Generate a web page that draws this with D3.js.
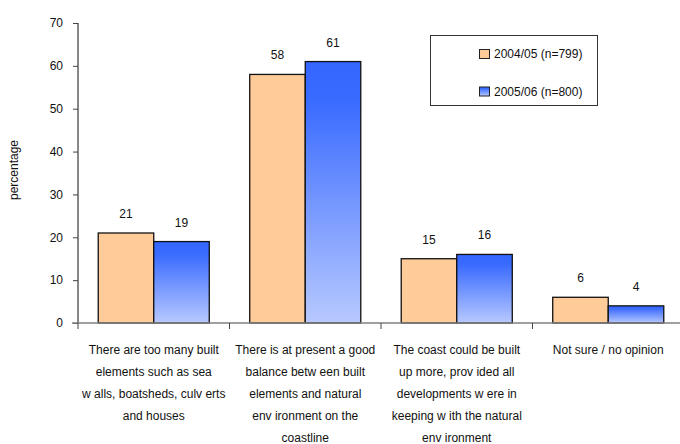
<!DOCTYPE html>
<html>
  <head>
    <meta http-equiv="content-type" content="text/html; charset=utf-8" />
    <title>Built elements on the coast</title>
    <script type="text/javascript" src="https://cdn.jsdelivr.net/npm/d3@7"></script>
  </head>
  <body style="margin:0;background:#fff">
    <style type="text/css">
      text { font-family: "Liberation Sans", Arial, sans-serif; fill: #111; }
    </style>
    <script type="text/javascript">
      // data
      var categories = [
        ["There are too many  built", "elements such as sea", "w alls, boatsheds, culv erts", "and houses"],
        ["There is at present a good", "balance betw een built", "elements and natural", "env ironment on the", "coastline"],
        ["The coast could be built", "up more, prov ided all", "developments w ere in", "keeping w ith the natural", "env ironment"],
        ["Not sure / no opinion"]
      ];
      var seriesNames = ["2004/05 (n=799)", "2005/06 (n=800)"];
      var values0405 = [21, 58, 15, 6];
      var values0506 = [19, 61, 16, 4];
      var yTicks = [0, 10, 20, 30, 40, 50, 60, 70];

      var w = 680, h = 444,
          plotL = 78, plotR = 684, plotT = 23, plotB = 323;

      var svg = d3.select("body").append("svg")
        .attr("width", w)
        .attr("height", h);

      var defs = svg.append("defs");
      var grad = defs.append("linearGradient")
        .attr("id", "blueGrad")
        .attr("x1", 0).attr("y1", 0).attr("x2", 0).attr("y2", 1);
      grad.append("stop").attr("offset", "0%").attr("stop-color", "#3366ff");
      grad.append("stop").attr("offset", "15%").attr("stop-color", "#3a6bff");
      grad.append("stop").attr("offset", "100%").attr("stop-color", "#b8c9ff");

      var y = d3.scaleLinear().domain([0, 70]).range([plotB, plotT]);
      var x = d3.scaleBand().domain(d3.range(categories.length))
        .range([plotL, plotR]).paddingInner(0.267).paddingOuter(0.1335);
      var xs = d3.scaleBand().domain([0, 1]).range([0, x.bandwidth()]);

      // y axis
      var yAxis = svg.append("g")
        .attr("transform", "translate(" + plotL + ",0)")
        .call(d3.axisLeft(y).tickValues(yTicks).tickSize(5).tickPadding(10));
      yAxis.select(".domain").attr("stroke", "#111").attr("d", "M0," + plotT + "V" + plotB);
      yAxis.selectAll(".tick line").attr("stroke", "#444");
      yAxis.selectAll(".tick text").attr("font-size", 12).attr("fill", "#111")
        .attr("font-family", "Liberation Sans, Arial, sans-serif");

      svg.append("text")
        .attr("transform", "translate(18," + 170 + ") rotate(-90)")
        .attr("text-anchor", "middle")
        .attr("font-size", 12)
        .text("percentage");

      var series = [values0405, values0506];
      var fills = ["#ffcc99", "url(#blueGrad)"];

      var groups = svg.selectAll("g.grp")
        .data(categories)
        .enter().append("g")
        .attr("class", "grp")
        .attr("transform", function(d, i) { return "translate(" + x(i) + ",0)"; });

      series.forEach(function(vals, s) {
        groups.append("rect")
          .attr("x", xs(s))
          .attr("y", function(d, i) { return y(vals[i]); })
          .attr("width", xs.bandwidth())
          .attr("height", function(d, i) { return y(0) - y(vals[i]); })
          .attr("fill", fills[s])
          .attr("stroke", "#111")
          .attr("stroke-width", 1.3);
        groups.append("text")
          .attr("x", xs(s) + xs.bandwidth() / 2)
          .attr("y", function(d, i) { return y(vals[i]) - 15; })
          .attr("text-anchor", "middle")
          .attr("font-size", 12)
          .text(function(d, i) { return vals[i]; });
      });

      // x axis line and separators
      svg.append("line")
        .attr("x1", 72).attr("x2", w)
        .attr("y1", plotB).attr("y2", plotB)
        .attr("stroke", "#808080").attr("stroke-width", 1.5);
      var step = x.step();
      svg.selectAll("line.sep")
        .data(d3.range(categories.length))
        .enter().append("line")
        .attr("class", "sep")
        .attr("x1", function(d) { return x(d) - x.paddingOuter() * step; })
        .attr("x2", function(d) { return x(d) - x.paddingOuter() * step; })
        .attr("y1", plotB).attr("y2", plotB + 6)
        .attr("stroke", "#444");

      // category labels
      groups.each(function(lines, i) {
        var t = d3.select(this).append("text")
          .attr("text-anchor", "middle")
          .attr("font-size", 12);
        lines.forEach(function(l, k) {
          t.append("tspan")
            .attr("x", x.bandwidth() / 2)
            .attr("y", 354 + k * 22)
            .text(l);
        });
      });

      // legend
      var lg = svg.append("g");
      lg.append("rect")
        .attr("x", 430.5).attr("y", 35.5)
        .attr("width", 167).attr("height", 70)
        .attr("fill", "#fff").attr("stroke", "#333");
      seriesNames.forEach(function(name, s) {
        lg.append("rect")
          .attr("x", 479.5).attr("y", 49.5 + s * 37.5)
          .attr("width", 10).attr("height", 9)
          .attr("fill", fills[s]).attr("stroke", "#222");
        lg.append("text")
          .attr("x", 494).attr("y", 58 + s * 37.5)
          .attr("font-size", 12)
          .text(name);
      });
    </script>
  </body>
</html>
